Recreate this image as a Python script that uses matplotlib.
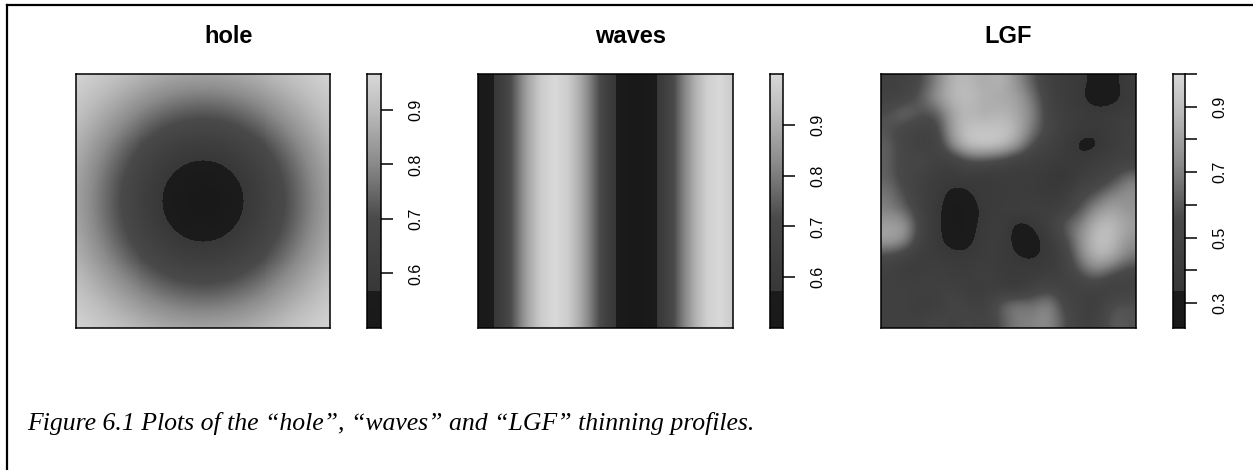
import numpy as np
import matplotlib
matplotlib.use("Agg")
import matplotlib.pyplot as plt
from matplotlib.colors import LinearSegmentedColormap, Normalize
from matplotlib.lines import Line2D

W, H, DPI = 1253, 470, 100

# "hole": value as a function of distance from the window centre (unit square)
hole_radius = [0.00, 0.05, 0.10, 0.15, 0.20, 0.25, 0.30, 0.35,
               0.40, 0.45, 0.50, 0.55, 0.60, 0.65, 0.70, 0.75]
hole_value = [0.500, 0.507, 0.528, 0.562, 0.600, 0.638, 0.680, 0.723,
              0.768, 0.811, 0.849, 0.882, 0.910, 0.933, 0.952, 0.967]
hole_range = [0.50, 0.966]
hole_ticks = [0.6, 0.7, 0.8, 0.9]
hole_labels = ["0.6", "0.7", "0.8", "0.9"]

# "waves": value across the x direction (constant in y)
waves_x = [0.00, 0.05, 0.10, 0.15, 0.20, 0.25, 0.30, 0.35, 0.40, 0.45, 0.50,
           0.55, 0.60, 0.65, 0.70, 0.75, 0.80, 0.85, 0.90, 0.95, 1.00]
waves_value = [0.506, 0.550, 0.645, 0.770, 0.890, 0.971, 1.000, 0.971, 0.890,
               0.777, 0.658, 0.560, 0.506, 0.509, 0.568, 0.669, 0.790, 0.900,
               0.977, 1.000, 0.965]
waves_range = [0.50, 1.00]
waves_ticks = [0.6, 0.7, 0.8, 0.9]
waves_labels = ["0.6", "0.7", "0.8", "0.9"]

# "LGF": coarse 16 x 16 grid of the log-Gaussian field (top row first)
lgf_grid = [
    [0.45, 0.45, 0.55, 0.70, 0.88, 0.88, 0.82, 0.88, 0.75, 0.60, 0.45, 0.40, 0.38, 0.29, 0.29, 0.40],
    [0.45, 0.50, 0.60, 0.78, 0.88, 0.90, 0.85, 0.82, 0.82, 0.68, 0.48, 0.40, 0.35, 0.27, 0.28, 0.37],
    [0.58, 0.68, 0.58, 0.58, 0.82, 0.88, 0.82, 0.88, 0.82, 0.72, 0.50, 0.42, 0.40, 0.38, 0.40, 0.42],
    [0.58, 0.50, 0.45, 0.50, 0.82, 0.92, 0.93, 0.92, 0.88, 0.68, 0.52, 0.42, 0.38, 0.36, 0.40, 0.45],
    [0.62, 0.50, 0.45, 0.45, 0.75, 0.93, 0.95, 0.93, 0.80, 0.55, 0.45, 0.40, 0.29, 0.30, 0.40, 0.45],
    [0.62, 0.50, 0.55, 0.45, 0.42, 0.55, 0.55, 0.50, 0.42, 0.42, 0.42, 0.38, 0.37, 0.42, 0.45, 0.45],
    [0.62, 0.50, 0.45, 0.40, 0.40, 0.40, 0.34, 0.40, 0.40, 0.40, 0.34, 0.30, 0.42, 0.45, 0.52, 0.68],
    [0.68, 0.55, 0.45, 0.40, 0.28, 0.32, 0.40, 0.38, 0.40, 0.38, 0.37, 0.40, 0.50, 0.58, 0.70, 0.75],
    [0.70, 0.62, 0.45, 0.36, 0.27, 0.28, 0.36, 0.40, 0.42, 0.45, 0.40, 0.45, 0.58, 0.75, 0.82, 0.75],
    [0.80, 0.80, 0.50, 0.36, 0.27, 0.29, 0.38, 0.42, 0.30, 0.33, 0.45, 0.62, 0.70, 0.88, 0.90, 0.80],
    [0.82, 0.75, 0.45, 0.36, 0.28, 0.30, 0.40, 0.42, 0.28, 0.28, 0.37, 0.52, 0.75, 0.92, 0.90, 0.75],
    [0.52, 0.45, 0.40, 0.40, 0.37, 0.36, 0.40, 0.38, 0.35, 0.31, 0.37, 0.45, 0.70, 0.88, 0.85, 0.68],
    [0.45, 0.40, 0.40, 0.45, 0.40, 0.40, 0.45, 0.40, 0.37, 0.40, 0.40, 0.45, 0.58, 0.70, 0.58, 0.50],
    [0.45, 0.45, 0.45, 0.45, 0.45, 0.40, 0.40, 0.40, 0.36, 0.45, 0.52, 0.45, 0.45, 0.45, 0.40, 0.45],
    [0.45, 0.45, 0.40, 0.40, 0.52, 0.45, 0.45, 0.62, 0.70, 0.65, 0.75, 0.52, 0.45, 0.40, 0.58, 0.58],
    [0.45, 0.45, 0.45, 0.52, 0.45, 0.52, 0.45, 0.58, 0.70, 0.70, 0.75, 0.58, 0.45, 0.45, 0.62, 0.58],
]
lgf_range = [0.224, 1.00]
lgf_ticks = [0.3, 0.4, 0.5, 0.6, 0.7, 0.8, 0.9, 1.0]
lgf_labels = ["0.3", "", "0.5", "", "0.7", "", "0.9", ""]

titles = ["hole", "waves", "LGF"]
caption = "Figure 6.1 Plots of the \u201chole\u201d, \u201cwaves\u201d and \u201cLGF\u201d thinning profiles."

# grey ramp with a flat darkest band at the low end
grey_stops = [(0.000, 0.10), (0.145, 0.11), (0.146, 0.22), (0.220, 0.235),
              (0.430, 0.29), (0.645, 0.54), (0.860, 0.74), (1.000, 0.85)]
cmap = LinearSegmentedColormap.from_list(
    "greys_profile", [(p, (g, g, g)) for p, g in grey_stops], N=512)

SANS = "Liberation Sans"
SERIF = "Liberation Serif"

fig = plt.figure(figsize=(W / DPI, H / DPI), dpi=DPI)


def px_axes(x0, y0, x1, y1):
    return fig.add_axes([x0 / W, 1 - y1 / H, (x1 - x0) / W, (y1 - y0) / H])


def draw_image(box, data, vrange, interp):
    ax = px_axes(*box)
    ax.imshow(data, cmap=cmap, norm=Normalize(*vrange), origin="upper",
              extent=[0, 1, 0, 1], aspect="auto", interpolation=interp,
              interpolation_stage="data")
    ax.set_xticks([])
    ax.set_yticks([])
    for s in ax.spines.values():
        s.set_linewidth(1.1)
        s.set_color("black")
    return ax


def draw_ribbon(box, vrange, ticks, labels):
    ax = px_axes(*box)
    grad = np.linspace(vrange[0], vrange[1], 512)[:, None]
    ax.imshow(grad, cmap=cmap, norm=Normalize(*vrange), origin="lower",
              extent=[0, 1, vrange[0], vrange[1]], aspect="auto",
              interpolation="nearest")
    ax.set_xlim(0, 1)
    ax.set_ylim(*vrange)
    ax.set_xticks([])
    ax.yaxis.tick_right()
    ax.set_yticks(ticks)
    ax.set_yticklabels(labels, family=SANS, fontsize=11.5, rotation=90,
                       va="center", ha="left")
    ax.tick_params(axis="y", direction="out", length=8.8, width=1.1, pad=11)
    for s in ax.spines.values():
        s.set_linewidth(1.1)
        s.set_color("black")
    return ax


n = 256
u = (np.arange(n) + 0.5) / n
gx, gy = np.meshgrid(u, u)
hole_img = np.interp(np.hypot(gx - 0.5, gy - 0.5), hole_radius, hole_value)
waves_img = np.tile(np.interp(u, waves_x, waves_value), (n, 1))
lgf_img = np.array(lgf_grid)

draw_image((76, 74, 330, 328), hole_img, hole_range, "nearest")
draw_ribbon((367, 74, 381, 328), hole_range, hole_ticks, hole_labels)

draw_image((478, 74, 733, 328), waves_img, waves_range, "nearest")
draw_ribbon((770, 74, 783, 328), waves_range, waves_ticks, waves_labels)

draw_image((881, 74, 1136, 328), lgf_img, lgf_range, "bicubic")
draw_ribbon((1173, 74, 1185, 328), lgf_range, lgf_ticks, lgf_labels)

for tx, t in zip([228.5, 630.5, 1008], titles):
    fig.text(tx / W, 1 - 43 / H, t, ha="center", va="baseline",
             family=SANS, fontweight="bold", fontsize=17)

fig.text(27 / W, 1 - 430 / H, caption, ha="left", va="baseline",
         family=SERIF, style="italic", fontsize=18.5)

# frame along the top and left of the figure
fig.add_artist(Line2D([6.5 / W, 1], [1 - 5 / H, 1 - 5 / H], color="black",
                      lw=1.6, transform=fig.transFigure))
fig.add_artist(Line2D([6.5 / W, 6.5 / W], [0, 1 - 5 / H], color="black",
                      lw=1.6, transform=fig.transFigure))

fig.savefig("out.png", dpi=DPI)
